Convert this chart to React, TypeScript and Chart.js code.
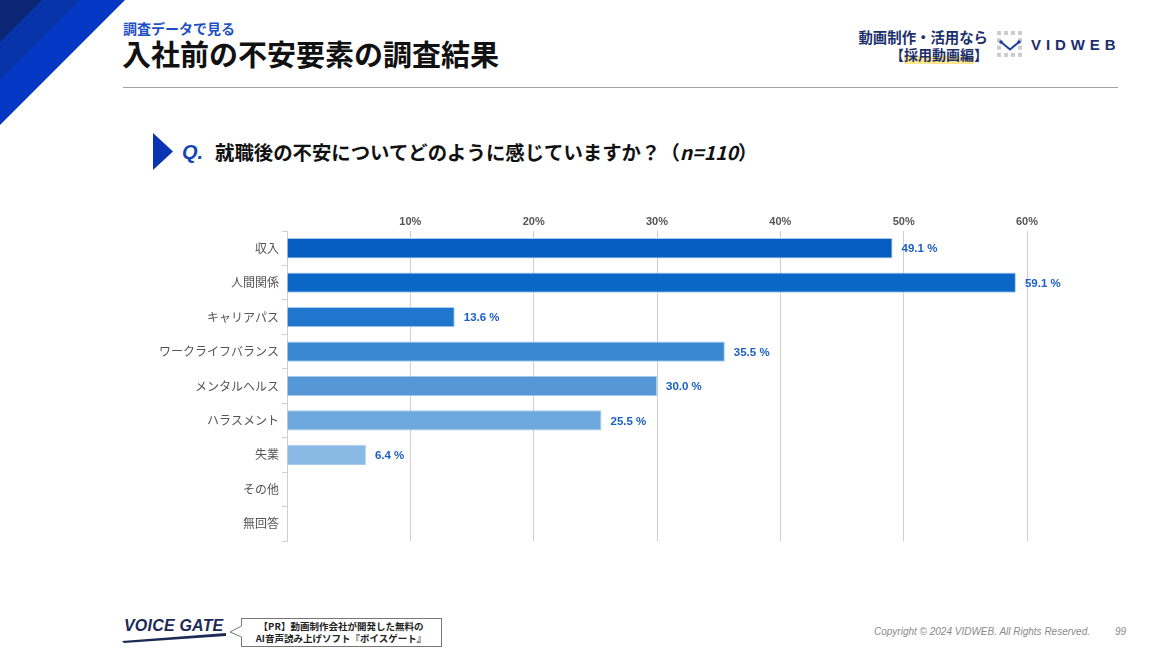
import React, { useEffect, useRef } from "react";
import { Chart, registerables } from "chart.js";

Chart.register(...registerables);

const categories = [
  "収入",
  "人間関係",
  "キャリアパス",
  "ワークライフバランス",
  "メンタルヘルス",
  "ハラスメント",
  "失業",
  "その他",
  "無回答",
];
const values = [49.1, 59.1, 13.6, 35.5, 30.0, 25.5, 6.4, 0, 0];
const barColors = [
  "#055dc1",
  "#0a67c7",
  "#1f77cd",
  "#3a88d2",
  "#5597d6",
  "#6ca8de",
  "#8bb9e6",
  "#a3c8ec",
  "#b8d6f0",
];
const xMin = 0;
const xMax = 60;
const xStep = 10;

const JP = "'Noto Sans CJK JP', 'Noto Sans', sans-serif";
const LAT = "'Liberation Sans', 'Noto Sans CJK JP', sans-serif";

const valueLabelPlugin = {
  id: "valueLabels",
  afterDatasetsDraw(chart: any) {
    const ctx = chart.ctx;
    const meta = chart.getDatasetMeta(0);
    ctx.save();
    ctx.font = `bold 11.5px ${LAT}`;
    ctx.fillStyle = "#1a5fc4";
    ctx.textAlign = "left";
    ctx.textBaseline = "middle";
    meta.data.forEach((bar: any, i: number) => {
      const v = values[i];
      if (!v) return;
      ctx.fillText(v.toFixed(1) + " %", bar.x + 9, bar.y + 1);
    });
    ctx.restore();
  },
};

function BarChart() {
  const ref = useRef<HTMLCanvasElement | null>(null);
  useEffect(() => {
    if (!ref.current) return;
    const chart = new Chart(ref.current, {
      type: "bar",
      data: {
        labels: categories,
        datasets: [
          {
            data: values,
            backgroundColor: barColors,
            borderColor: "rgba(165,202,238,0.95)",
            borderWidth: 1,
            barPercentage: 0.59,
            categoryPercentage: 1,
          },
        ],
      },
      options: {
        indexAxis: "y",
        animation: false,
        responsive: false,
        devicePixelRatio: 1,
        layout: { padding: { left: 0, top: 0, right: 73, bottom: 19 } },
        plugins: {
          legend: { display: false },
          tooltip: { enabled: false },
        },
        scales: {
          x: {
            position: "top",
            min: xMin,
            max: xMax,
            afterFit: (s: any) => {
              s.height = 31;
            },
            ticks: {
              stepSize: xStep,
              padding: 2,
              color: "#555",
              font: { family: LAT, size: 11, weight: "bold" },
              callback: (v: any) => (v === 0 ? "" : v + "%"),
            },
            grid: { color: "#cfcfcf", drawTicks: false, lineWidth: 1 },
            border: { display: false },
          },
          y: {
            afterFit: (s: any) => {
              s.width = 137;
            },
            ticks: {
              padding: 3,
              color: "#555",
              font: { family: JP, size: 12 },
            },
            grid: {
              drawOnChartArea: false,
              drawTicks: true,
              tickLength: 5,
              color: "#cfcfcf",
            },
            border: { display: true, color: "#cfcfcf" },
          },
        },
      },
      plugins: [valueLabelPlugin],
    } as any);
    return () => chart.destroy();
  }, []);
  return (
    <canvas
      ref={ref}
      width={950}
      height={360}
      style={{ position: "absolute", left: 150, top: 200, width: 950, height: 360 }}
    />
  );
}

export default function App() {
  const dots: JSX.Element[] = [];
  for (let r = 0; r < 4; r++) {
    for (let c = 0; c < 4; c++) {
      if ((r === 1 || r === 2) && (c === 1 || c === 2)) continue;
      dots.push(
        <rect key={`${r}-${c}`} x={997 + c * 7} y={31 + r * 7.3} width={4} height={4} fill="#cccccc" />
      );
    }
  }
  return (
    <div
      style={{
        position: "fixed",
        left: 0,
        top: 0,
        width: 1170,
        height: 658,
        background: "#ffffff",
        overflow: "hidden",
        fontFamily: JP,
      }}
    >
      <svg width={1170} height={658} style={{ position: "absolute", left: 0, top: 0 }}>
        <polygon points="0,0 125,0 0,125" fill="#0438c4" />
        <polygon points="0,0 80,0 0,80" fill="#0634a8" />
        <polygon points="0,0 42,0 0,42" fill="#0b2674" />
        <line x1={123} y1={87.5} x2={1118} y2={87.5} stroke="#a0a0a0" strokeWidth={1} />
        <polygon points="153,133 173,151.5 153,170" fill="#0a34b4" />
        {dots}
        <polyline
          points="1001,42 1010,49.5 1019,42"
          fill="none"
          stroke="#1d3f9e"
          strokeWidth={2}
          strokeLinejoin="round"
        />
        <circle cx={1001} cy={42} r={1.8} fill="#1d3f9e" />
        <circle cx={1019} cy={42} r={1.8} fill="#1d3f9e" />
        {/* VOICE GATE swoosh */}
        <polygon points="122,641 226,633 226,636 124,643" fill="#1b2b55" />
        {/* callout box */}
        <rect x={241.5} y={618.5} width={200} height={28} fill="#fff" stroke="#777" strokeWidth={1} />
        <polyline points="241.5,626 230,632 241.5,637" fill="#fff" stroke="#777" strokeWidth={1} />
        <line x1={241.5} y1={626.5} x2={241.5} y2={636.5} stroke="#fff" strokeWidth={1.5} />
      </svg>

      <div
        style={{
          position: "absolute",
          left: 123,
          top: 18,
          fontSize: 14,
          fontWeight: 700,
          color: "#1d4fc4",
          lineHeight: "20px",
          whiteSpace: "nowrap",
        }}
      >
        調査データで見る
      </div>
      <div
        style={{
          position: "absolute",
          left: 122,
          top: 35,
          fontSize: 29,
          fontWeight: 700,
          color: "#111",
          lineHeight: "36px",
          whiteSpace: "nowrap",
        }}
      >
        入社前の不安要素の調査結果
      </div>

      <div
        style={{
          position: "absolute",
          right: 1170 - 988,
          top: 27,
          fontSize: 14.4,
          fontWeight: 700,
          color: "#1b2f6b",
          lineHeight: "20px",
          textAlign: "right",
          whiteSpace: "nowrap",
        }}
      >
        動画制作・活用なら
      </div>
      <div
        style={{
          position: "absolute",
          right: 1170 - 988,
          top: 44,
          fontSize: 14,
          fontWeight: 700,
          color: "#1b2f6b",
          lineHeight: "20px",
          textAlign: "right",
          whiteSpace: "nowrap",
        }}
      >
        【
        <span style={{ background: "linear-gradient(transparent 58%, #fbe68c 58%)" }}>採用動画編</span>】
      </div>
      <div
        style={{
          position: "absolute",
          left: 1031,
          top: 35,
          fontSize: 15,
          fontWeight: 700,
          color: "#1c2e6e",
          lineHeight: "20px",
          letterSpacing: 4.9,
          fontFamily: LAT,
          whiteSpace: "nowrap",
        }}
      >
        VIDWEB
      </div>

      <div
        style={{
          position: "absolute",
          left: 182,
          top: 139,
          fontSize: 20,
          fontWeight: 700,
          fontStyle: "italic",
          color: "#1446b8",
          lineHeight: "26px",
          fontFamily: LAT,
          whiteSpace: "nowrap",
        }}
      >
        Q.
      </div>
      <div
        style={{
          position: "absolute",
          left: 215,
          top: 139,
          fontSize: 19.4,
          fontWeight: 700,
          color: "#111",
          lineHeight: "26px",
          whiteSpace: "nowrap",
        }}
      >
        就職後の不安についてどのように感じていますか？（<span style={{ fontStyle: "italic" }}>n=110</span>）
      </div>

      <BarChart />

      <div
        style={{
          position: "absolute",
          left: 124,
          top: 617,
          fontSize: 16,
          fontWeight: 700,
          fontStyle: "italic",
          color: "#1b2b55",
          lineHeight: "18px",
          fontFamily: LAT,
          letterSpacing: 0.2,
          whiteSpace: "nowrap",
        }}
      >
        VOICE GATE
      </div>
      <div
        style={{
          position: "absolute",
          left: 241,
          top: 620,
          width: 200,
          fontSize: 9.5,
          fontWeight: 700,
          color: "#222",
          lineHeight: "12px",
          textAlign: "center",
          whiteSpace: "nowrap",
        }}
      >
        【PR】動画制作会社が開発した無料の
        <br />
        AI音声読み上げソフト『ボイスゲート』
      </div>

      <div
        style={{
          position: "absolute",
          left: 874,
          top: 625,
          fontSize: 10,
          fontStyle: "italic",
          color: "#8a8a8a",
          lineHeight: "14px",
          fontFamily: LAT,
          whiteSpace: "nowrap",
        }}
      >
        Copyright © 2024 VIDWEB. All Rights Reserved.
      </div>
      <div
        style={{
          position: "absolute",
          left: 1115,
          top: 625,
          fontSize: 10,
          fontStyle: "italic",
          color: "#8a8a8a",
          lineHeight: "14px",
          fontFamily: LAT,
          whiteSpace: "nowrap",
        }}
      >
        99
      </div>
    </div>
  );
}
